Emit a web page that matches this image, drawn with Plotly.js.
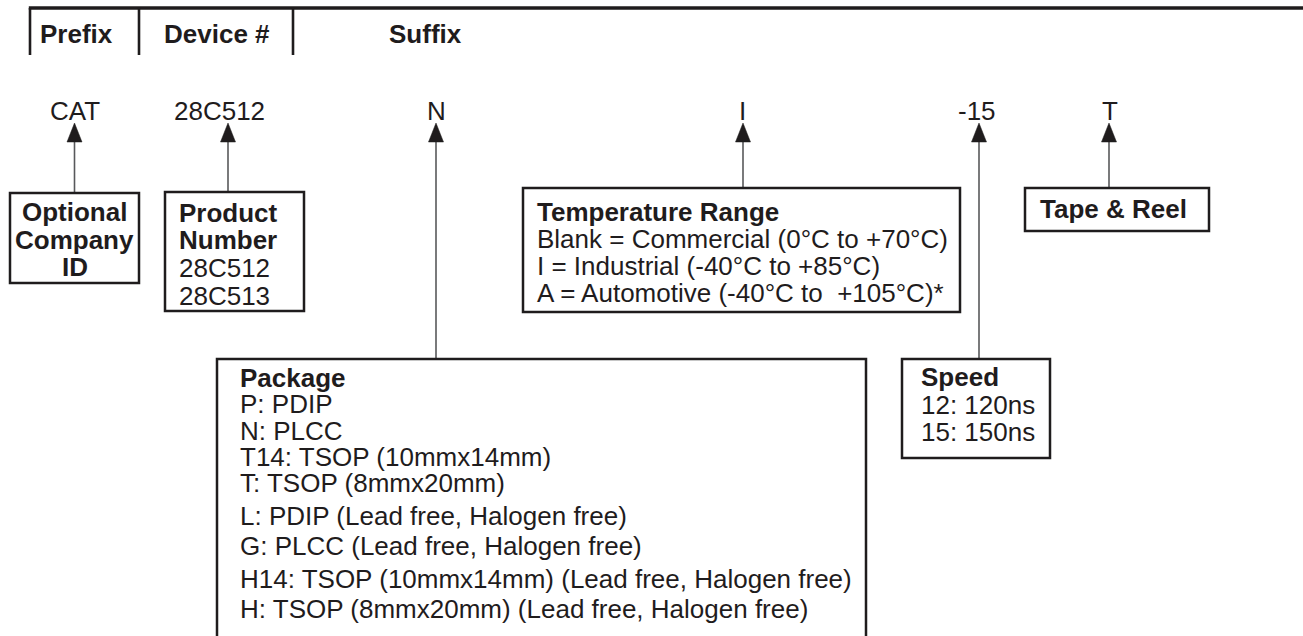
<!DOCTYPE html>
<html>
<head>
<meta charset="utf-8">
<script src="https://cdn.plot.ly/plotly-3.0.1.min.js"></script>
<style>
  html, body { margin: 0; padding: 0; background: #ffffff; }
  #chart { width: 1303px; height: 636px; }
</style>
</head>
<body>
<div id="chart"></div>
<script>
// ---------------- DATA (texts of the ordering-information diagram) ----------------
const headerLabels = ["Prefix", "Device #", "Suffix"];
const partCodes = ["CAT", "28C512", "N", "I", "-15", "T"];
const companyIdLines = ["Optional", "Company", "ID"];
const productTitleLines = ["Product", "Number"];
const productOptions = ["28C512", "28C513"];
const temperatureTitle = "Temperature Range";
const temperatureOptions = [
  "Blank = Commercial (0°C to +70°C)",
  "I = Industrial (-40°C to +85°C)",
  "A = Automotive (-40°C to \u00a0+105°C)*"
];
const packageTitle = "Package";
const packageOptions = [
  "P: PDIP",
  "N: PLCC",
  "T14: TSOP (10mmx14mm)",
  "T: TSOP (8mmx20mm)",
  "L: PDIP (Lead free, Halogen free)",
  "G: PLCC (Lead free, Halogen free)",
  "H14: TSOP (10mmx14mm) (Lead free, Halogen free)",
  "H: TSOP (8mmx20mm) (Lead free, Halogen free)"
];
const speedTitle = "Speed";
const speedOptions = ["12: 120ns", "15: 150ns"];
const tapeReelTitle = "Tape & Reel";

// ---------------- GEOMETRY / STYLE (layout only) ----------------
const W = 1303, H = 636;
const FONT = "Liberation Sans, Arial, Helvetica, sans-serif";
const INK = "#1f1c1d";
const LINE = "#58595b";
const FS = 26;

const header = {
  lineY: 8, tickBottom: 55,
  ticksX: [30, 139, 293],
  textX: [39, 163, 388], textY: 34
};
const codeRow = { y: 111, textX: [74.5, 219.5, 436.5, 742.5, 977, 1109.5] };
const arrowRow = { tipY: 123, baseY: 142, half: 7.5 };
// arrow x positions and the y where each connecting line ends (top of its box)
const arrowX = [74.5, 228, 436, 743, 979, 1109];
const arrowEndY = [193, 192, 359, 188, 359, 188];

const boxes = {
  company: { x0: 10, x1: 139, y0: 193, y1: 283 },
  product: { x0: 165, x1: 304, y0: 192, y1: 311 },
  temperature: { x0: 523, x1: 960, y0: 188, y1: 312 },
  tapeReel: { x0: 1025, x1: 1209, y0: 188, y1: 231 },
  pkg: { x0: 217, x1: 866, y0: 359, y1: 640 },
  speed: { x0: 902, x1: 1050, y0: 359, y1: 458 }
};
const companyText = { x: 74.5, y: [212, 240, 267] };
const productText = { x: 178, y: [213, 240, 268, 296] };
const temperatureText = { x: 536, y: [212, 239, 266, 293] };
const tapeReelText = { x: 1039, y: 209 };
const packageText = { x: 239, y: [378, 404, 431, 457, 483, 516, 546, 579, 609] };
const speedText = { x: 920, y: [377, 405, 432] };

// ---------------- BUILD ----------------
const shapes = [];
const annotations = [];

function ann(text, x, y, opts) {
  const o = opts || {};
  annotations.push({
    xref: "x", yref: "y", x: x, y: y,
    text: o.bold ? "<b>" + text + "</b>" : text,
    showarrow: false,
    xanchor: o.anchor || "left", yanchor: "middle",
    borderpad: 0,
    font: { family: FONT, size: o.size || FS, color: INK }
  });
}
function rect(b) {
  shapes.push({
    type: "rect", xref: "x", yref: "y",
    x0: b.x0, x1: b.x1, y0: b.y0, y1: b.y1,
    line: { color: INK, width: 2.5 }, fillcolor: "rgba(0,0,0,0)", layer: "above"
  });
}
function seg(x0, y0, x1, y1, color, width) {
  shapes.push({
    type: "line", xref: "x", yref: "y", x0: x0, y0: y0, x1: x1, y1: y1,
    line: { color: color, width: width }, layer: "above"
  });
}

// header rule and separators
seg(header.ticksX[0] - 1.2, header.lineY, W + 5, header.lineY, INK, 3.5);
header.ticksX.forEach(x => seg(x, header.lineY, x, header.tickBottom, INK, 2.6));
headerLabels.forEach((t, i) => ann(t, header.textX[i], header.textY, { bold: true }));

// part-number codes
partCodes.forEach((t, i) => ann(t, codeRow.textX[i], codeRow.y, { anchor: "center" }));

// arrows (line + filled triangle head)
arrowX.forEach((x, i) => {
  seg(x, arrowRow.baseY, x, arrowEndY[i], LINE, 1.6);
  shapes.push({
    type: "path", xref: "x", yref: "y",
    path: "M " + (x - arrowRow.half) + "," + arrowRow.baseY +
          " L " + x + "," + arrowRow.tipY +
          " L " + (x + arrowRow.half) + "," + arrowRow.baseY + " Z",
    fillcolor: INK, line: { color: INK, width: 0.5 }, layer: "above"
  });
});

// boxes
Object.keys(boxes).forEach(k => rect(boxes[k]));

// company id
companyIdLines.forEach((t, i) => ann(t, companyText.x, companyText.y[i], { bold: true, anchor: "center" }));
// product number
productTitleLines.forEach((t, i) => ann(t, productText.x, productText.y[i], { bold: true }));
productOptions.forEach((t, i) => ann(t, productText.x, productText.y[i + productTitleLines.length]));
// temperature
ann(temperatureTitle, temperatureText.x, temperatureText.y[0], { bold: true });
temperatureOptions.forEach((t, i) => ann(t, temperatureText.x, temperatureText.y[i + 1]));
// tape & reel
ann(tapeReelTitle, tapeReelText.x, tapeReelText.y, { bold: true });
// package
ann(packageTitle, packageText.x, packageText.y[0], { bold: true });
packageOptions.forEach((t, i) => ann(t, packageText.x, packageText.y[i + 1]));
// speed
ann(speedTitle, speedText.x, speedText.y[0], { bold: true });
speedOptions.forEach((t, i) => ann(t, speedText.x, speedText.y[i + 1]));

const layout = {
  width: W, height: H,
  margin: { l: 0, r: 0, t: 0, b: 0, pad: 0 },
  paper_bgcolor: "#ffffff", plot_bgcolor: "#ffffff",
  showlegend: false,
  xaxis: { range: [0, W], visible: false, fixedrange: true },
  yaxis: { range: [H, 0], visible: false, fixedrange: true },
  shapes: shapes,
  annotations: annotations
};

Plotly.newPlot("chart", [{ type: "scatter", x: [], y: [], hoverinfo: "skip" }], layout,
  { staticPlot: true, displayModeBar: false });
</script>
</body>
</html>
